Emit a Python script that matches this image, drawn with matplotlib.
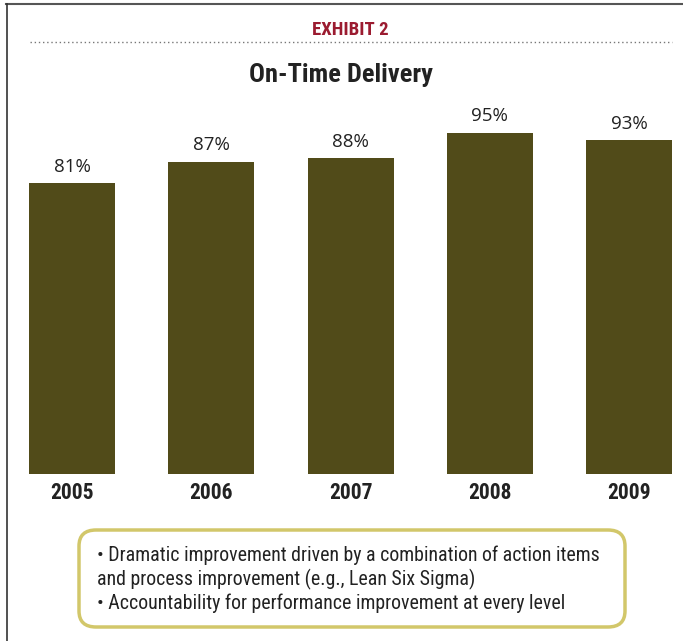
import matplotlib
matplotlib.use("Agg")
import matplotlib.pyplot as plt
from matplotlib.patches import FancyBboxPatch
from matplotlib.lines import Line2D

years = ["2005", "2006", "2007", "2008", "2009"]
values = [81, 87, 88, 95, 93]
value_labels = ["81%", "87%", "88%", "95%", "93%"]
exhibit = "EXHIBIT 2"
title = "On-Time Delivery"
notes = ["\u2022 Dramatic improvement driven by a combination of action items",
         "and process improvement (e.g., Lean Six Sigma)",
         "\u2022 Accountability for performance improvement at every level"]

W, H = 683, 641
fig = plt.figure(figsize=(W / 100, H / 100), dpi=100)
fig.patch.set_facecolor("white")

COND = ["Roboto Condensed", "DejaVu Sans"]
REG = ["Open Sans", "DejaVu Sans"]

# axes covering the whole figure; data mapping px = 72 + 139.25*x, py = 474 - 3.59*v
ax = fig.add_axes([0, 0, 1, 1])
x0, dx = 72.0, 139.25
base, k = 474.0, 3.59
ax.set_xlim(-x0 / dx, (W - x0) / dx)
ax.set_ylim((base - H) / k, base / k)
ax.axis("off")

bar_color = "#514b19"
xs = list(range(len(years)))
ax.bar(xs, values, width=86 / dx, color=bar_color, zorder=2)
for x, v, lab in zip(xs, values, value_labels):
    ax.text(x, v + 4.6, lab, ha="center", va="center", fontsize=13.5,
            family=REG, color="#222222")
for x, y in zip(xs, years):
    ax.text(x, (base - 493) / k, y, ha="center", va="center", fontsize=15.5,
            fontweight="bold", family=COND, color="#222222")

def fx(px):
    return px / W

def fy(py):
    return 1 - py / H

# frame lines (top and left)
fig.add_artist(Line2D([fx(6), fx(683)], [fy(4), fy(4)], color="#555555", lw=1.5))
fig.add_artist(Line2D([fx(7), fx(7)], [fy(4), fy(641)], color="#333333", lw=1.2))

# exhibit label and dotted rule
fig.text(fx(350), fy(30), exhibit, ha="center", va="center", fontsize=13.5,
         fontweight="bold", family=COND, color="#9b1b30")
fig.add_artist(Line2D([fx(30), fx(672)], [fy(42), fy(42)], color="#777777",
                      lw=1.0, linestyle=(0, (1, 2))))

# title
fig.text(fx(341), fy(75), title, ha="center", va="center", fontsize=19,
         fontweight="bold", family=COND, color="#222222")

# note box
bx0, by0, bx1, by1 = 79, 530, 625, 627
box = FancyBboxPatch((fx(bx0), fy(by1)), fx(bx1) - fx(bx0), fy(by0) - fy(by1),
                     boxstyle="round,pad=0,rounding_size=0.025",
                     transform=fig.transFigure, facecolor="white",
                     edgecolor="#d2c76a", lw=2.5)
fig.add_artist(box)
for i, line in enumerate(notes):
    fig.text(fx(97), fy(555 + 24 * i), line, ha="left", va="center",
             fontsize=14.3, family=COND, color="#222222")

fig.savefig("out.png", dpi=100, facecolor="white")
